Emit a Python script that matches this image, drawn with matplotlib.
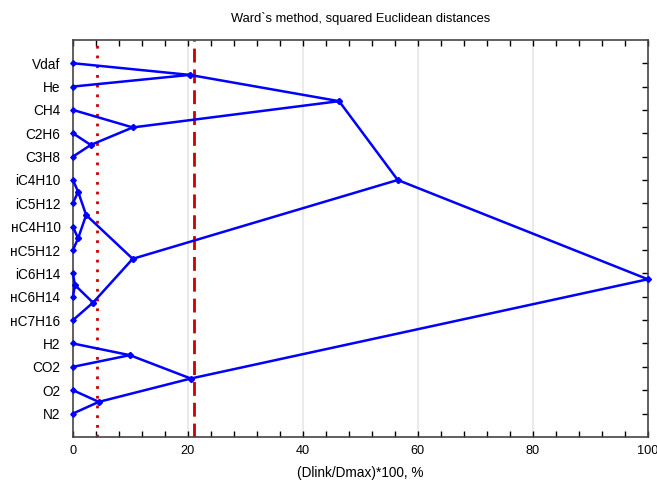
import numpy as np
import matplotlib.pyplot as plt
from matplotlib.ticker import MultipleLocator

plt.rcParams['font.family'] = ['Liberation Sans', 'DejaVu Sans']

labels = ["Vdaf", "He", "CH4", "C2H6", "C3H8", "iC4H10", "iC5H12", "нC4H10",
          "нC5H12", "iC6H14", "нC6H14", "нC7H16", "H2", "CO2", "O2", "N2"]

# merges: (child a, child b, linkage distance in %), new cluster ids start at 16
merge_a = [0, 3, 2, 16, 5, 7, 20, 9, 23, 22, 19, 12, 14, 27, 26]
merge_b = [1, 4, 17, 18, 6, 8, 21, 10, 11, 24, 25, 13, 15, 28, 29]
merge_dist = [20.3, 3.1, 10.4, 46.3, 0.9, 0.9, 2.3, 0.35, 3.5, 10.4,
              56.5, 9.9, 4.5, 20.5, 100.0]

cut_dotted = 4.2
cut_dashed = 21.0


def main():
    n = len(labels)
    xs = {i: 0.0 for i in range(n)}
    ys = {i: float(n - i) for i in range(n)}

    fig = plt.figure(figsize=(6.57, 4.86), dpi=100)
    ax = fig.add_axes([0.111, 0.101, 0.875, 0.817])

    for x in [20, 40, 60, 80]:
        ax.axvline(x, color="#e6e6e6", lw=1.2, zorder=0)

    for k, (a, b, d) in enumerate(zip(merge_a, merge_b, merge_dist)):
        node = n + k
        xs[node] = d
        ys[node] = (ys[a] + ys[b]) / 2
        for c in (a, b):
            ax.plot([xs[c], d], [ys[c], ys[node]], color="#0000ff", lw=1.8,
                    marker="D", ms=2.8, clip_on=False, zorder=3)

    ax.axvline(cut_dotted, color="#cc0000", lw=2, ls=(0, (1, 2.5)), zorder=2)
    ax.axvline(cut_dashed, color="#cc0000", lw=2, ls=(0, (5, 2.5)), zorder=2)

    ax.set_xlim(0, 100)
    ax.set_ylim(0, n + 1)
    ax.set_yticks([n - i for i in range(n)])
    ax.set_yticklabels(labels, fontsize=9.8)
    ax.set_xticks(np.arange(0, 101, 20))
    ax.xaxis.set_minor_locator(MultipleLocator(4))
    ax.tick_params(axis="x", labelsize=9.2, direction="in", top=True,
                   length=4, width=1, pad=6)
    ax.tick_params(axis="x", which="minor", direction="in", top=True,
                   length=4, width=1)
    ax.tick_params(axis="y", direction="in", left=False, right=True,
                   length=4, width=1, pad=9)

    for s in ax.spines.values():
        s.set_color("#444444")
        s.set_linewidth(1.2)

    ax.set_title("Ward`s method, squared Euclidean distances", fontsize=9.3, pad=13)
    ax.set_xlabel("(Dlink/Dmax)*100, %", fontsize=9.8, labelpad=6)

    fig.savefig("out.png", dpi=100)


if __name__ == '__main__':
    main()
